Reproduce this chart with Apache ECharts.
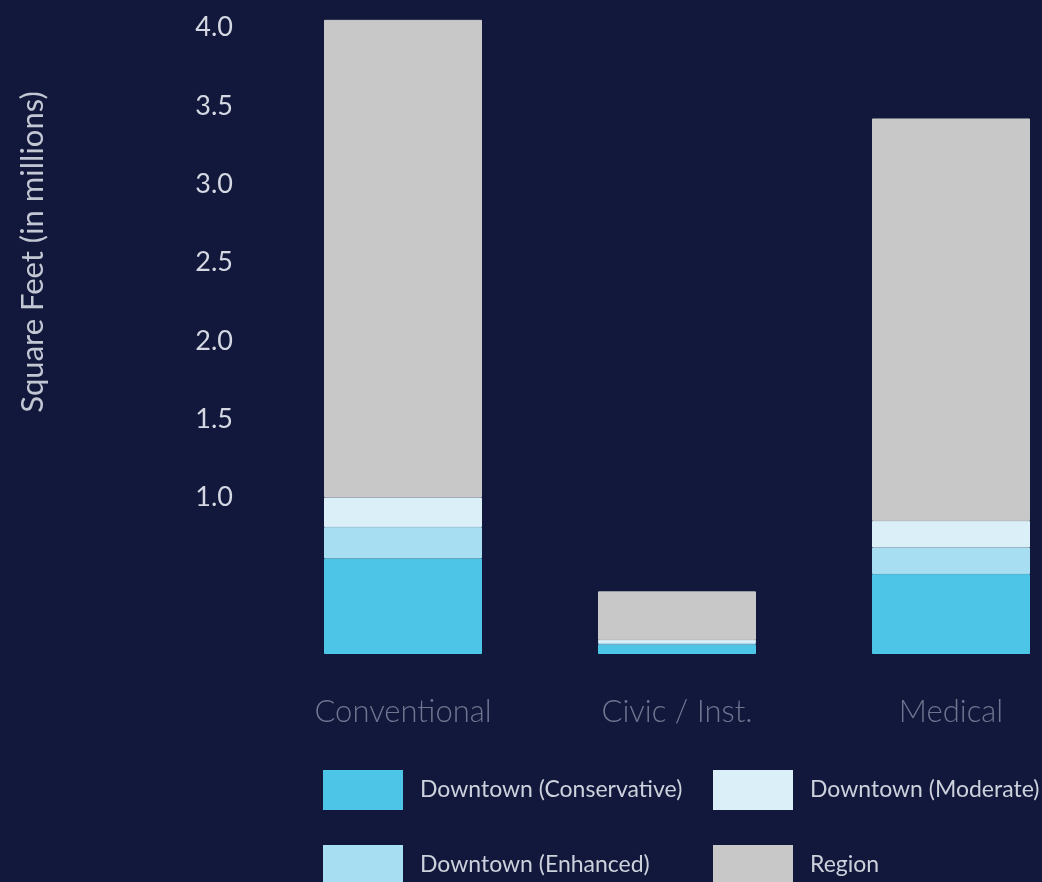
<!DOCTYPE html>
<html>
<head>
<meta charset="utf-8">
<script src="https://cdn.jsdelivr.net/npm/echarts@6/dist/echarts.min.js"></script>
<style>
html,body{margin:0;padding:0;background:#11183b;}
#c{width:1042px;height:882px;}
</style>
</head>
<body>
<div id="c"></div>
<script>
const categories = ['Conventional', 'Civic / Inst.', 'Medical'];
const conservative = [0.61, 0.06, 0.51];
const enhanced = [0.20, 0.01, 0.17];
const moderate = [0.19, 0.02, 0.17];
const region = [3.05, 0.31, 2.57];
const yTickLabels = ['1.0', '1.5', '2.0', '2.5', '3.0', '3.5', '4.0'];
const seriesNames = ['Downtown (Conservative)', 'Downtown (Enhanced)', 'Downtown (Moderate)', 'Region'];
const colors = ['#4cc5e6', '#a7def2', '#dbeff8', '#c8c8c8'];

const FONT = 'Lato, "Open Sans", sans-serif';
const chart = echarts.init(document.getElementById('c'));

const legendText = { color: '#cdd1dc', fontSize: 23, fontFamily: FONT, padding: [0, 0, 0, 12] };
function lg(name, left, top) {
  return { data: [name], left: left, top: top, itemWidth: 80, itemHeight: 40,
    icon: 'rect', itemStyle: { borderWidth: 0 }, textStyle: legendText, selectedMode: false };
}
function barSeries(i, values) {
  return { name: seriesNames[i], type: 'bar', stack: 'a', barWidth: 158,
    itemStyle: { color: colors[i], borderWidth: 1, borderColor: colors[i] }, data: values };
}

chart.setOption({
  backgroundColor: '#11183b',
  animation: false,
  color: colors,
  grid: { left: 266, right: -46, top: 12, bottom: 228, outerBoundsMode: 'none', containLabel: false },
  legend: [
    lg(seriesNames[0], 318, 765),
    lg(seriesNames[2], 708, 765),
    lg(seriesNames[1], 318, 840),
    lg(seriesNames[3], 708, 840)
  ],
  graphic: [{
    type: 'text', x: 33, y: 252, rotation: Math.PI / 2,
    style: { text: 'Square Feet (in millions)', fill: '#c3c7d3', fontSize: 31, fontFamily: FONT,
      textAlign: 'center', textVerticalAlign: 'middle' }
  }],
  xAxis: {
    type: 'category', data: categories,
    axisLine: { show: false }, axisTick: { show: false },
    axisLabel: { color: '#6f7690', fontSize: 31, fontFamily: FONT, fontWeight: 300, margin: 42 }
  },
  yAxis: {
    type: 'value', min: 0, max: 4.1, interval: 0.5,
    splitLine: { show: false }, axisLine: { show: false }, axisTick: { show: false },
    axisLabel: {
      color: '#d5d8e2', fontSize: 27, fontFamily: FONT, margin: 33,
      formatter: function (v) { const s = v.toFixed(1); return yTickLabels.indexOf(s) >= 0 && Math.abs(v - parseFloat(s)) < 1e-6 ? s : ''; }
    }
  },
  series: [
    barSeries(0, conservative),
    barSeries(1, enhanced),
    barSeries(2, moderate),
    barSeries(3, region)
  ]
});
</script>
</body>
</html>
